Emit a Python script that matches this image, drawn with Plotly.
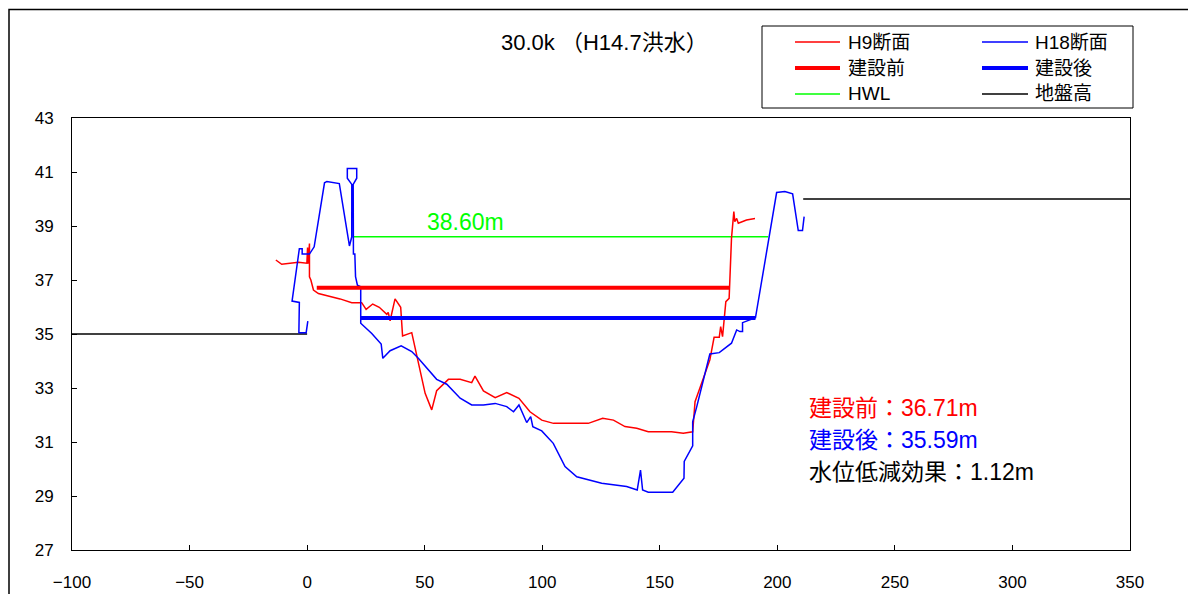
import plotly.graph_objects as go

# ---- data ----
h9_x = [-13.3, -10.8, -3.7, -0.1, 0.2, 0.5, 1.0, 1.0, 1.6, 2.7, 4.8, 14.0, 19.0, 23.2, 25.1, 27.9, 30.7,
        33.9, 34.5, 35.3, 37.4, 39.8, 40.6, 44.5, 50.2, 53.0, 55.1, 60.1, 65.1, 70.0, 71.4, 75.0, 80.0,
        84.9, 90.1, 94.8, 99.8, 104.8, 119.6, 125.7, 130.3, 135.2, 140.2, 145.1, 155.0, 160.0, 164.0,
        165.0, 171.3, 173.1, 175.3, 175.9, 176.7, 178.1, 179.5, 180.5, 181.5, 181.9, 182.7, 183.4, 186.9, 190.5]
h9_y = [37.74, 37.58, 37.66, 37.62, 38.20, 37.60, 38.35, 37.12, 37.00, 36.63, 36.50, 36.30, 36.16, 36.16, 35.91, 36.11, 35.99,
        35.73, 35.80, 35.49, 36.30, 35.99, 34.93, 35.05, 32.80, 32.19, 32.90, 33.32, 33.32, 33.20, 33.44, 32.89, 32.64,
        32.83, 32.62, 32.12, 31.81, 31.69, 31.69, 31.88, 31.81, 31.57, 31.51, 31.38, 31.38, 31.32, 31.38,
        32.49, 34.04, 34.88, 34.88, 35.27, 34.90, 36.20, 36.32, 38.54, 39.53, 39.16, 39.28, 39.10, 39.22, 39.28]

h18_x = [0.3, -0.4, -3.5, -3.3, -6.4, -3.3, -2.1, -2.1, 1.0, 3.0, 7.4, 8.4, 13.7, 18.0, 19.0, 19.0, 17.1, 17.1,
         21.1, 21.1, 19.6, 19.7, 20.3, 20.6, 21.4, 22.8, 22.8, 27.5, 31.5, 32.2, 35.3, 40.0, 44.5, 47.3, 55.1,
         59.4, 65.1, 70.0, 75.0, 80.0, 84.9, 87.8, 90.1, 93.4, 95.1, 96.0, 99.8, 104.7, 109.7, 114.7, 125.3,
         135.9, 140.4, 141.8, 142.7, 145.1, 155.5, 160.3, 160.4, 164.0, 164.0, 165.7, 171.3, 175.3, 180.5,
         182.7, 184.1, 185.2, 185.2, 190.7, 199.7, 203.2, 206.5, 208.9, 210.7, 211.4]
h18_y = [35.48, 35.05, 35.05, 36.17, 36.22, 38.16, 38.16, 37.96, 37.96, 38.23, 40.60, 40.65, 40.57, 38.26, 38.60, 40.54, 40.77, 41.13,
         41.13, 40.77, 40.54, 37.96, 37.96, 37.12, 36.81, 36.75, 35.40, 35.02, 34.63, 34.10, 34.38, 34.56, 34.35, 34.10, 33.32,
         33.14, 32.62, 32.37, 32.37, 32.43, 32.31, 32.12, 32.37, 31.72, 31.94, 31.57, 31.41, 30.95, 30.09, 29.71, 29.47,
         29.35, 29.22, 29.96, 29.22, 29.14, 29.14, 29.66, 30.28, 30.86, 31.75, 32.30, 34.26, 34.31, 34.66,
         35.15, 35.09, 35.09, 35.42, 35.60, 40.24, 40.28, 40.19, 38.83, 38.83, 39.35]

before_x = [4.1, 179.8]
before_level = 36.71
after_x = [22.8, 190.7]
after_level = 35.59
hwl_x = [19.4, 196.1]
hwl_level = 38.60
ground_left_x = [-100, 0]
ground_left_y = 35.0
ground_right_x = [211, 350]
ground_right_y = 40.0

x_ticks = [-100, -50, 0, 50, 100, 150, 200, 250, 300, 350]
y_ticks = [27, 29, 31, 33, 35, 37, 39, 41, 43]

FONT = "Liberation Sans, Arial, Noto Sans CJK JP"
RED = "#ff0000"
BLUE = "#0000ff"
GREEN = "#00ff00"

fig = go.Figure()
fig.add_trace(go.Scatter(x=ground_left_x, y=[ground_left_y] * 2, mode="lines",
                         line=dict(color="black", width=1.5), name="地盤高"))
fig.add_trace(go.Scatter(x=ground_right_x, y=[ground_right_y] * 2, mode="lines",
                         line=dict(color="black", width=1.5), name="地盤高"))
fig.add_trace(go.Scatter(x=hwl_x, y=[hwl_level] * 2, mode="lines",
                         line=dict(color=GREEN, width=1.5), name="HWL"))
fig.add_trace(go.Scatter(x=h9_x, y=h9_y, mode="lines",
                         line=dict(color=RED, width=1.5), name="H9断面"))
fig.add_trace(go.Scatter(x=h18_x, y=h18_y, mode="lines",
                         line=dict(color=BLUE, width=1.5), name="H18断面"))
fig.add_trace(go.Scatter(x=before_x, y=[before_level] * 2, mode="lines",
                         line=dict(color=RED, width=4), name="建設前"))
fig.add_trace(go.Scatter(x=after_x, y=[after_level] * 2, mode="lines",
                         line=dict(color=BLUE, width=4), name="建設後"))

# geometry: page pixel coordinates of the plot area (page has an 8px body margin)
W, H = 1196, 594
OFF = 8
PL, PR, PT, PB = 72, 1130, 118, 550


def px(xp):
    return (xp - PL) / (PR - PL)


def py(yp):
    return (PB - yp) / (PB - PT)


shapes = []
annotations = []

# outer frame
shapes.append(dict(type="rect", xref="paper", yref="paper", x0=px(9), x1=px(1195), y0=py(620), y1=py(9.5),
                   line=dict(color="black", width=1.5), fillcolor="rgba(0,0,0,0)", layer="below"))
# legend box
shapes.append(dict(type="rect", xref="paper", yref="paper", x0=px(762), x1=px(1133), y0=py(108), y1=py(26),
                   line=dict(color="black", width=1), fillcolor="white"))
legend_items = [
    ("H9断面", RED, 1.5, 795, 840, 846, 42),
    ("H18断面", BLUE, 1.5, 982, 1028, 1033, 42),
    ("建設前", RED, 4, 795, 840, 846, 68),
    ("建設後", BLUE, 4, 982, 1028, 1033, 68),
    ("HWL", GREEN, 1.5, 795, 840, 846, 94),
    ("地盤高", "black", 1.5, 982, 1028, 1033, 94),
]
for name, col, w, lx0, lx1, tx, yy in legend_items:
    shapes.append(dict(type="line", xref="paper", yref="paper", x0=px(lx0), x1=px(lx1), y0=py(yy), y1=py(yy),
                       line=dict(color=col, width=w)))
    annotations.append(dict(xref="paper", yref="paper", x=px(tx), y=py(yy), text=name, showarrow=False,
                            xanchor="left", yanchor="middle", font=dict(size=19, color="black", family=FONT)))

# title
annotations.append(dict(xref="paper", yref="paper", x=px(604), y=py(42), text="30.0k （H14.7洪水）", showarrow=False,
                        xanchor="center", yanchor="middle", font=dict(size=22, color="black", family=FONT)))
# HWL label
annotations.append(dict(x=67.2, y=39.15, text=f"{hwl_level:.2f}m", showarrow=False, xanchor="center",
                        yanchor="middle", font=dict(size=23, color=GREEN, family=FONT)))
# result texts
annotations.append(dict(x=212.6, y=32.26, text=f"建設前：{before_level:.2f}m", showarrow=False, xanchor="left",
                        yanchor="middle", font=dict(size=23, color=RED, family=FONT)))
annotations.append(dict(x=212.6, y=31.07, text=f"建設後：{after_level:.2f}m", showarrow=False, xanchor="left",
                        yanchor="middle", font=dict(size=23, color=BLUE, family=FONT)))
annotations.append(dict(x=212.6, y=29.89, text=f"水位低減効果：{before_level - after_level:.2f}m", showarrow=False,
                        xanchor="left", yanchor="middle", font=dict(size=23, color="black", family=FONT)))

fig.update_layout(
    width=W, height=H,
    margin=dict(l=PL - OFF, r=W - (PR - OFF), t=PT - OFF, b=H - (PB - OFF), autoexpand=False),
    paper_bgcolor="white", plot_bgcolor="white",
    showlegend=False,
    font=dict(family=FONT, size=17, color="black"),
    shapes=shapes, annotations=annotations,
    xaxis=dict(range=[-100, 350], tickvals=x_ticks, ticks="inside", ticklen=5, tickcolor="black",
               showline=True, mirror=True, linecolor="black", linewidth=1, showgrid=False, zeroline=False,
               ticklabelstandoff=17, tickfont=dict(size=17), automargin=False),
    yaxis=dict(range=[27, 43], tickvals=y_ticks, ticks="inside", ticklen=5, tickcolor="black",
               showline=True, mirror=True, linecolor="black", linewidth=1, showgrid=False, zeroline=False,
               ticklabelstandoff=14, tickfont=dict(size=17), automargin=False),
)

fig.write_html("out.html")
